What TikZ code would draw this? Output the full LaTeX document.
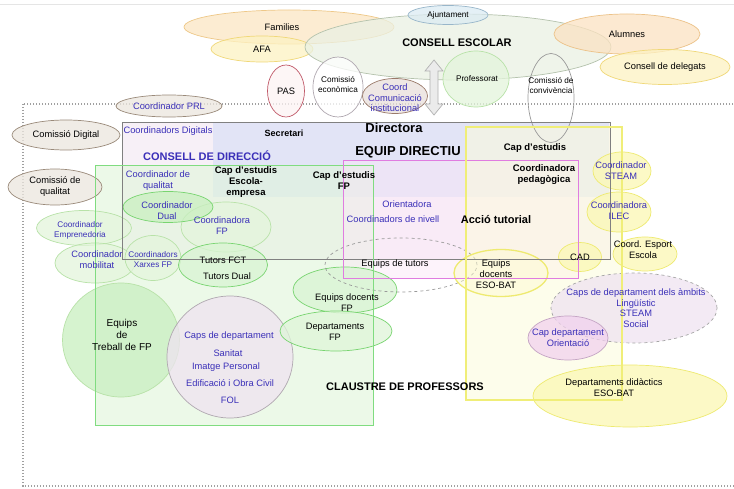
\documentclass[tikz,border=0pt]{standalone}
\usepackage{fontspec}
\setmainfont{Liberation Sans}
\usetikzlibrary{shapes.geometric}
\definecolor{cblue}{HTML}{3A2FB8}
\definecolor{famF}{HTML}{FBE6C4}\definecolor{famD}{HTML}{EEC888}
\definecolor{afaF}{HTML}{FDF2C2}\definecolor{afaD}{HTML}{F0D878}
\definecolor{ceF}{HTML}{EAF1E4}\definecolor{ceD}{HTML}{B4C2AC}
\definecolor{ajF}{HTML}{DCEBF3}\definecolor{ajD}{HTML}{98B6CA}
\definecolor{brF}{HTML}{ECE6DE}\definecolor{brD}{HTML}{9A8A7A}
\definecolor{gF}{HTML}{C9EFC0}\definecolor{gD}{HTML}{78D470}
\definecolor{lgF}{HTML}{E4F5DC}\definecolor{lgD}{HTML}{B8E2A8}
\definecolor{yF}{HTML}{FBF8B4}\definecolor{yD}{HTML}{EEEA70}
\definecolor{lavF}{HTML}{EFE3F1}\definecolor{lavD}{HTML}{B0A8B0}
\definecolor{pkF}{HTML}{F1D2EE}\definecolor{pkD}{HTML}{C4A4C4}
\definecolor{framec}{HTML}{A0A0A0}
\definecolor{cddF}{HTML}{F7F0F7}
\definecolor{edF}{HTML}{E2E4F6}
\definecolor{grF}{HTML}{E0F5DA}\definecolor{grD}{HTML}{80DC80}
\definecolor{mgF}{HTML}{FCE6F8}\definecolor{mgD}{HTML}{E07CE0}
\definecolor{yrF}{HTML}{FDFCDC}\definecolor{yrD}{HTML}{F0EE78}
\definecolor{pasD}{HTML}{C05868}\definecolor{pasF}{HTML}{FDF4F4}
\definecolor{ccF}{HTML}{E9DFDC}\definecolor{ccD}{HTML}{9A7A6A}
\definecolor{alF}{HTML}{FBE2C2}\definecolor{alD}{HTML}{ECC288}
\begin{document}
\begin{tikzpicture}[x=1pt,y=-1pt,
  el/.style={ellipse, inner sep=0pt, draw, line width=0.7pt, fill opacity=0.75},
  tx/.style={font=\fontsize{9.3}{11}\selectfont, align=center, inner sep=0pt},
  sm/.style={font=\fontsize{8.2}{10}\selectfont, align=center, inner sep=0pt},
  bl/.style={text=cblue},
  bd/.style={font=\fontsize{9.5}{11}\selectfont\bfseries, align=center, inner sep=0pt},
  hd/.style={font=\fontsize{11}{13}\selectfont\bfseries, align=center, inner sep=0pt},
  hh/.style={font=\fontsize{13}{15}\selectfont\bfseries, align=center, inner sep=0pt}]
\useasboundingbox (0,0) rectangle (734,489);
\clip (0,0) rectangle (734,489);
\fill[white] (0,0) rectangle (734,489);
\draw[black!10, line width=0.5pt] (0,4) -- (734,4);
% dotted frame
\draw[framec, line width=1.1pt, dash pattern=on 1.4pt off 1.6pt] (23,104) rectangle (740,486);
% rectangle fills
\fill[cddF] (122,122) rectangle (610,259);
\fill[edF] (213,122) rectangle (609,197);
\fill[grF, fill opacity=0.6] (95,165) rectangle (373,425);
\fill[mgF, fill opacity=0.45] (343,160) rectangle (578,278);
\fill[yrF, fill opacity=0.55] (466,127) rectangle (622,400);

% top ellipses
\node[el, fill=famF, draw=famD, minimum width=210, minimum height=34] (fam) at (289,27) {};
\node[el, fill=afaF, draw=afaD, minimum width=102, minimum height=26] (afa) at (262,49) {};
\node[el, fill=ceF, draw=ceD, minimum width=306, minimum height=66] (ce) at (458,47) {};
\node[el, fill=ajF, draw=ajD, minimum width=80, minimum height=19] (aj) at (448,15) {};
\node[el, fill=alF, draw=alD, minimum width=146, minimum height=40] (al) at (627,34) {};
\node[el, fill=afaF, draw=afaD, minimum width=130, minimum height=35] (cdel) at (665,67) {};
\node[el, fill=lgF, draw=lgD, minimum width=66, minimum height=56] (prof) at (476,79) {};
\node[el, fill=pasF, draw=pasD, minimum width=37, minimum height=52] (pas) at (286,91) {};
\node[el, fill=white, draw=lavD, minimum width=50, minimum height=60] (ceco) at (338,87) {};
\node[el, fill=ccF, draw=ccD, minimum width=65, minimum height=35] (ccom) at (395,96) {};
% double arrow
\draw[fill=black!8, draw=black!30, line width=0.7pt] (434,60) -- (443,71) -- (438,71) -- (438,104) -- (443,104) -- (434,115) -- (425,104) -- (430,104) -- (430,71) -- (425,71) -- cycle;
\node[el, fill=white, fill opacity=0, draw=black!40, minimum width=46, minimum height=89] (conv) at (551,98) {};

% left brownish ellipses
\node[el, fill=brF, draw=brD, minimum width=106, minimum height=22] (prl) at (169,106) {};
\node[el, fill=brF, draw=brD, minimum width=108, minimum height=30] (cdig) at (66,135) {};
\node[el, fill=brF, draw=brD, minimum width=94, minimum height=36] (cqual) at (55,187) {};

% green ellipses
\node[el, fill=lgF, draw=lgD, minimum width=90, minimum height=50] (cfp) at (226,227) {};
\node[el, fill=gF, draw=gD, minimum width=90, minimum height=31] (cdual) at (168,207) {};
\node[el, fill=lgF, draw=lgD, minimum width=95, minimum height=35] (cemp) at (84,228) {};
\node[el, fill=lgF, draw=lgD, minimum width=80, minimum height=40] (cmob) at (95,263) {};
\node[el, fill=lgF, draw=lgD, minimum width=56, minimum height=45] (cxar) at (153,258) {};
\node[el, fill=gF!70, draw=gD, minimum width=89, minimum height=44] (tut) at (223,265) {};
\node[el, fill=gF, draw=lgD, minimum width=117, minimum height=114] (etfp) at (121,340) {};
\node[el, fill=lavF, draw=lavD, minimum width=126, minimum height=122] (caps) at (230,357) {};
\node[el, fill=gF!70, draw=gD, minimum width=104, minimum height=46] (edfp) at (345,290) {};
\node[el, fill=gF!60, draw=gD, minimum width=112, minimum height=40] (dfp) at (336,331) {};
\node[el, fill=none, draw=black!40, dashed, minimum width=152, minimum height=54] (etut) at (401,265) {};

% yellow ellipses
\node[el, fill=yF, draw=yD, minimum width=58, minimum height=38] (cste) at (622,171) {};
\node[el, fill=yF, draw=yD, minimum width=64, minimum height=40] (cilec) at (619,212) {};
\node[el, fill=yF, draw=yD, minimum width=64, minimum height=34] (cesp) at (645,254) {};
\node[el, fill=yF, draw=yD, minimum width=43, minimum height=29] (cad) at (580,257) {};
\node[el, fill=yF!60, fill opacity=0.5, draw=yD, line width=1.3pt, minimum width=94, minimum height=47] (edeso) at (501,273) {};
\node[el, fill=lavF, draw=black!35, dashed, minimum width=166, minimum height=70] (capamb) at (634,308) {};
\node[el, fill=pkF, draw=pkD, minimum width=80, minimum height=44] (capori) at (568,338) {};
\node[el, fill=yF, draw=yD, minimum width=194, minimum height=62] (ddeso) at (630,396) {};

% rectangle outlines on top
\draw[black!50, line width=0.6pt] (122,122) rectangle (610,259);
\draw[grD, line width=0.8pt] (95,165) rectangle (373,425);
\draw[mgD, line width=0.7pt] (343,160) rectangle (578,278);
\draw[yrD, line width=1.2pt] (466,127) rectangle (622,400);

% texts
\node[tx] (tfam) at (282,27) {Families};
\node[tx] (tafa) at (afa) {AFA};
\node[sm] (taj) at (aj) {Ajuntament};
\node[hd] (tce) at (457,43) {CONSELL ESCOLAR};
\node[tx] (tal) at (al) {Alumnes};
\node[tx] (tcdel) at (cdel) {Consell de delegats};
\node[tx] (tpas) at (pas) {PAS};
\node[sm] (tceco) at (338,85) {Comissió\\econòmica};
\node[tx, bl, font=\fontsize{9.3}{10.5}\selectfont] (tccom) at (395,98) {Coord\\Comunicació\\institucional};
\node[sm] (tprof) at (477,79) {Professorat};
\node[sm] (tconv) at (551,86) {Comissió de\\convivència};

\node[tx, bl] (tprl) at (prl) {Coordinador PRL};
\node[tx] (tcdig) at (cdig) {Comissió Digital};
\node[tx] (tcqual) at (cqual) {Comissió de\\qualitat};
\node[tx, bl] (tcdigs) at (168,131) {Coordinadors Digitals};
\node[bd, font=\fontsize{9}{11}\selectfont\bfseries] (tsec) at (284,133) {Secretari};
\node[hh] (tdir) at (394,128) {Directora};
\node[hh] (ted) at (408,152) {EQUIP DIRECTIU};
\node[bd] (tcap) at (535,148) {Cap d'estudis};
\node[hd, text=cblue] (tcdd) at (207,156) {CONSELL DE DIRECCIÓ};
\node[tx, bl] (tcqu) at (158,181) {Coordinador de\\qualitat};
\node[bd] (tcee) at (246,182) {Cap d'estudis\\Escola-\\empresa};
\node[bd] (tcfp) at (344,181) {Cap d'estudis\\FP};
\node[bd] (tcped) at (544,175) {Coordinadora\\pedagògica};
\node[tx, bl] (tcste) at (621,171) {Coordinador\\STEAM};
\node[tx, bl] (tcdual) at (167,211) {Coordinador\\Dual};
\node[tx, bl] (tcfp2) at (222,226) {Coordinadora\\FP};
\node[tx, bl] (tori) at (407,204) {Orientadora};
\node[tx, bl] (tniv) at (393,219) {Coordinadors de nivell};
\node[hd] (tact) at (496,220) {Acció tutorial};
\node[tx, bl] (tilec) at (619,211) {Coordinadora\\ILEC};
\node[sm, bl] (temp) at (80,230) {Coordinador\\Emprenedoria};
\node[tx] (tesp) at (643,250) {Coord. Esport\\Escola};
\node[tx, bl] (tmob) at (97,260) {Coordinador\\mobilitat};
\node[sm, bl] (txar) at (153,260) {Coordinadors\\Xarxes FP};
\node[tx] (tfct) at (223,260) {Tutors FCT};
\node[tx] (tdual) at (227,276) {Tutors Dual};
\node[tx] (tetut) at (395,264) {Equips de tutors};
\node[tx] (tedeso) at (496,274) {Equips\\docents\\ESO-BAT};
\node[tx] (tcad) at (cad) {CAD};
\node[tx] (tedfp) at (347,303) {Equips docents\\FP};
\node[tx] (tdfp) at (335,332) {Departaments\\FP};
\node[tx, bl, font=\fontsize{9.3}{10.6}\selectfont] (tcapamb) at (636,308) {Caps de departament dels àmbits\\Lingüístic\\STEAM\\Social};
\node[tx, font=\fontsize{10}{12}\selectfont] (tetfp) at (122,335) {Equips\\de\\Treball de FP};
\node[tx, bl] (tcaps) at (229,336) {Caps de departament};
\node[tx, bl] (tsan) at (228,353) {Sanitat};
\node[tx, bl] (timg) at (226,367) {Imatge Personal};
\node[tx, bl] (tedif) at (230,383) {Edificació i Obra Civil};
\node[tx, bl] (tfol) at (230,400) {FOL};
\node[tx, bl] (tcapori) at (568,338) {Cap departament\\Orientació};
\node[hd] (tclau) at (405,387) {CLAUSTRE DE PROFESSORS};
\node[tx] (tddeso) at (614,388) {Departaments didàctics\\ESO-BAT};
\end{tikzpicture}
\end{document}
